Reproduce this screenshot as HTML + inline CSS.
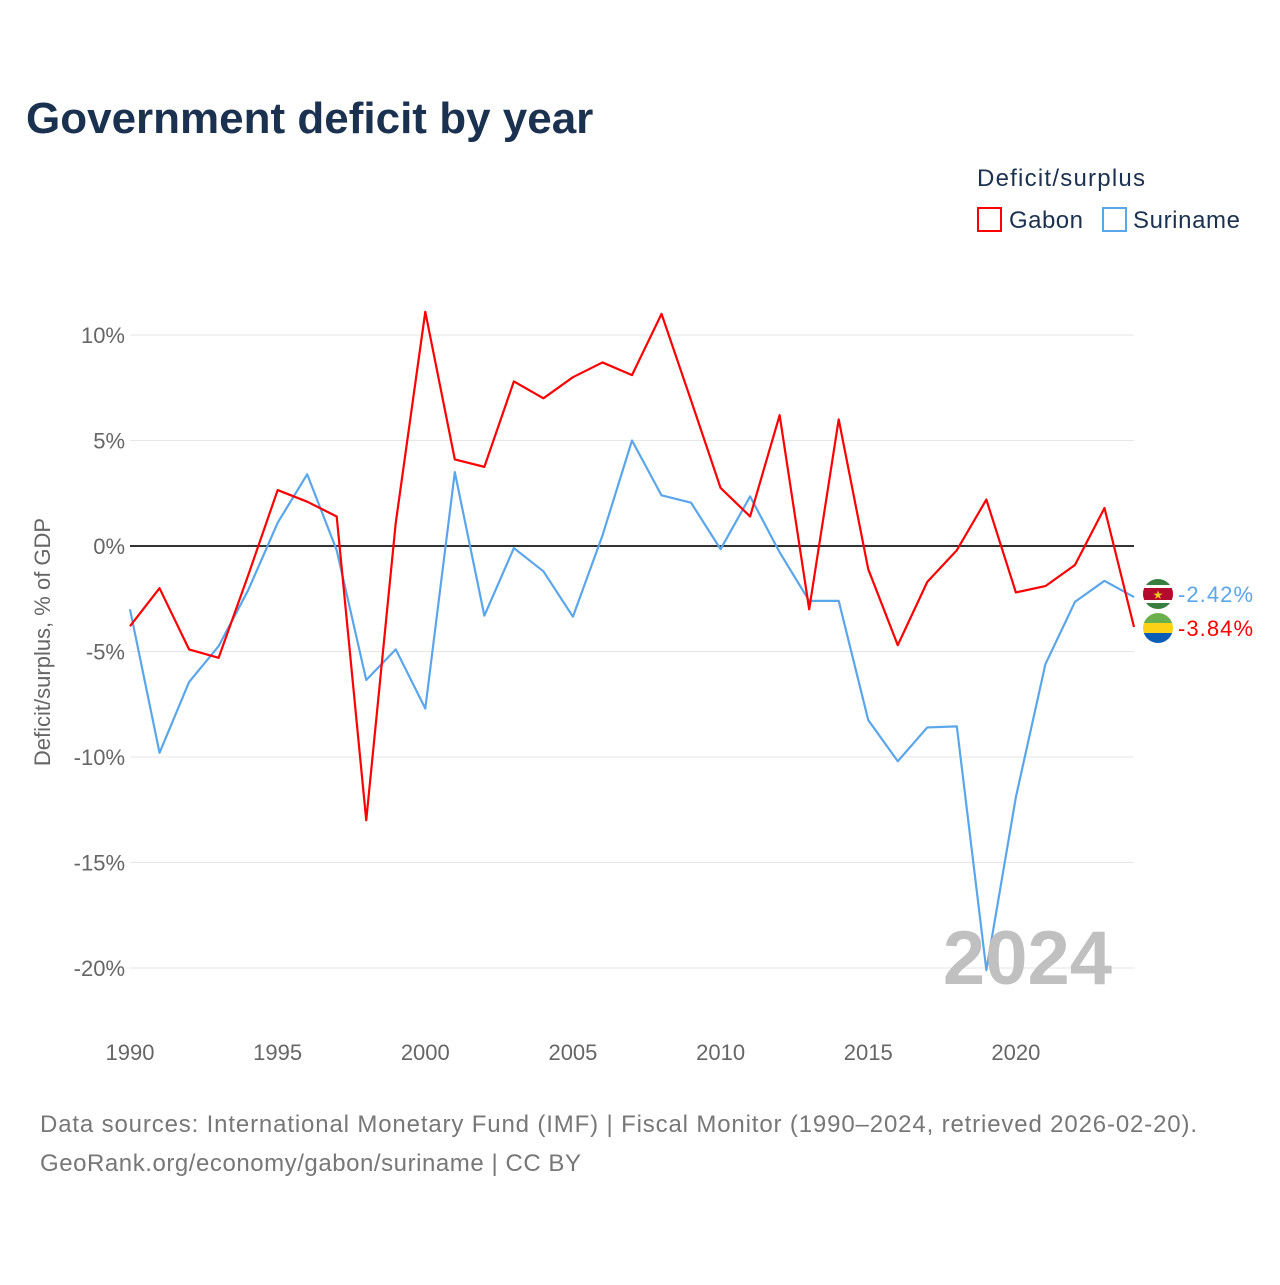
<!DOCTYPE html>
<html><head><meta charset="utf-8"><style>
body{margin:0;background:#fff;font-family:"Liberation Sans",sans-serif;}
svg text{font-family:"Liberation Sans",sans-serif;}
</style></head><body>
<svg id="c" width="1280" height="1280" viewBox="0 0 1280 1280">
<text x="26" y="133" font-size="44" font-weight="bold" fill="#1a3150">Government deficit by year</text>
<text x="977" y="186" font-size="24" fill="#1a3150" textLength="168">Deficit/surplus</text>
<g><rect x="978" y="208" width="23" height="23" fill="none" stroke="#ff0000" stroke-width="2"/><text x="1009" y="228" font-size="24" fill="#1a3150" textLength="74">Gabon</text></g>
<g><rect x="1103" y="208" width="23" height="23" fill="none" stroke="#5aa6ea" stroke-width="2"/><text x="1133" y="228" font-size="24" fill="#1a3150" textLength="107">Suriname</text></g>
<g id="grid"></g>
<g id="series"></g>
<text x="1112" y="984" font-size="76" font-weight="bold" fill="#c0c0c0" text-anchor="end">2024</text>
<text transform="translate(50,642) rotate(-90)" font-size="22" fill="#666" text-anchor="middle">Deficit/surplus, % of GDP</text>
<g>
<clipPath id="cs"><circle cx="1158" cy="594" r="15"/></clipPath>
<g clip-path="url(#cs)"><rect x="1140" y="578" width="36" height="32" fill="#377e3f"/><rect x="1140" y="585" width="36" height="18" fill="#fff"/><rect x="1140" y="588" width="36" height="12" fill="#b40a2d"/><text x="1158" y="599" font-size="12" fill="#ecc81d" text-anchor="middle">★</text></g></g>
<g>
<clipPath id="cg"><circle cx="1158" cy="628" r="15"/></clipPath>
<g clip-path="url(#cg)"><rect x="1140" y="612" width="36" height="11" fill="#6ab04c"/><rect x="1140" y="623" width="36" height="10" fill="#fcd116"/><rect x="1140" y="633" width="36" height="12" fill="#0b5db8"/></g></g>
<text x="1178" y="602" font-size="22" fill="#5aa6ea" textLength="75">-2.42%</text>
<text x="1178" y="636" font-size="22" fill="#ff0000" textLength="75">-3.84%</text>
<text x="40" y="1132" font-size="24" fill="#777" textLength="1157">Data sources: International Monetary Fund (IMF) | Fiscal Monitor (1990–2024, retrieved 2026-02-20).</text>
<text x="40" y="1171" font-size="24" fill="#777" textLength="541">GeoRank.org/economy/gabon/suriname | CC BY</text>
</svg>
<script>
const years=[1990,1991,1992,1993,1994,1995,1996,1997,1998,1999,2000,2001,2002,2003,2004,2005,2006,2007,2008,2009,2010,2011,2012,2013,2014,2015,2016,2017,2018,2019,2020,2021,2022,2023,2024];
const gabon=[-3.8,-2.0,-4.9,-5.3,-1.4,2.65,2.1,1.4,-13.0,1.1,11.1,4.1,3.75,7.8,7.0,8.0,8.7,8.1,11.0,6.9,2.75,1.4,6.2,-3.0,6.0,-1.1,-4.7,-1.7,-0.2,2.2,-2.2,-1.9,-0.9,1.8,-3.84];
const suriname=[-3.0,-9.8,-6.45,-4.75,-2.1,1.1,3.4,-0.2,-6.35,-4.9,-7.7,3.5,-3.3,-0.1,-1.2,-3.35,0.5,5.0,2.4,2.05,-0.15,2.35,-0.3,-2.6,-2.6,-8.25,-10.2,-8.6,-8.55,-20.1,-11.9,-5.6,-2.65,-1.65,-2.42];
const yTicks=[10,5,0,-5,-10,-15,-20];
const xTicks=[1990,1995,2000,2005,2010,2015,2020];
const NS="http://www.w3.org/2000/svg";
const X=y=>130+(y-1990)*(1134-130)/34;
const Y=v=>546-v*21.1;
const grid=document.getElementById('grid');
function mk(t,a,p){const e=document.createElementNS(NS,t);for(const k in a)e.setAttribute(k,a[k]);p.appendChild(e);return e;}
yTicks.forEach(v=>{
 const l=mk('line',{x1:130,x2:1134,y1:Y(v),y2:Y(v),stroke:v===0?'#333':'#e6e6e6','stroke-width':v===0?2:1},grid);
 
 
 const t=mk('text',{x:125,y:Y(v)+8,'font-size':22,fill:'#666','text-anchor':'end'},grid);
 t.textContent=v+'%';
 
 
});
xTicks.forEach(v=>{
 const t=mk('text',{x:X(v),y:1060,'font-size':22,fill:'#666','text-anchor':'middle'},grid);
 t.textContent=v;
 
 
});
const sg=document.getElementById('series');
[[suriname,'#5aa6ea','line-suriname'],[gabon,'#ff0000','line-gabon']].forEach(([d,c,n])=>{
 const p=mk('polyline',{points:d.map((v,i)=>X(years[i])+','+Y(v)).join(' '),fill:'none',stroke:c,'stroke-width':2.2,'stroke-linejoin':'round'},sg);
 
 
});
</script>
</body></html>
